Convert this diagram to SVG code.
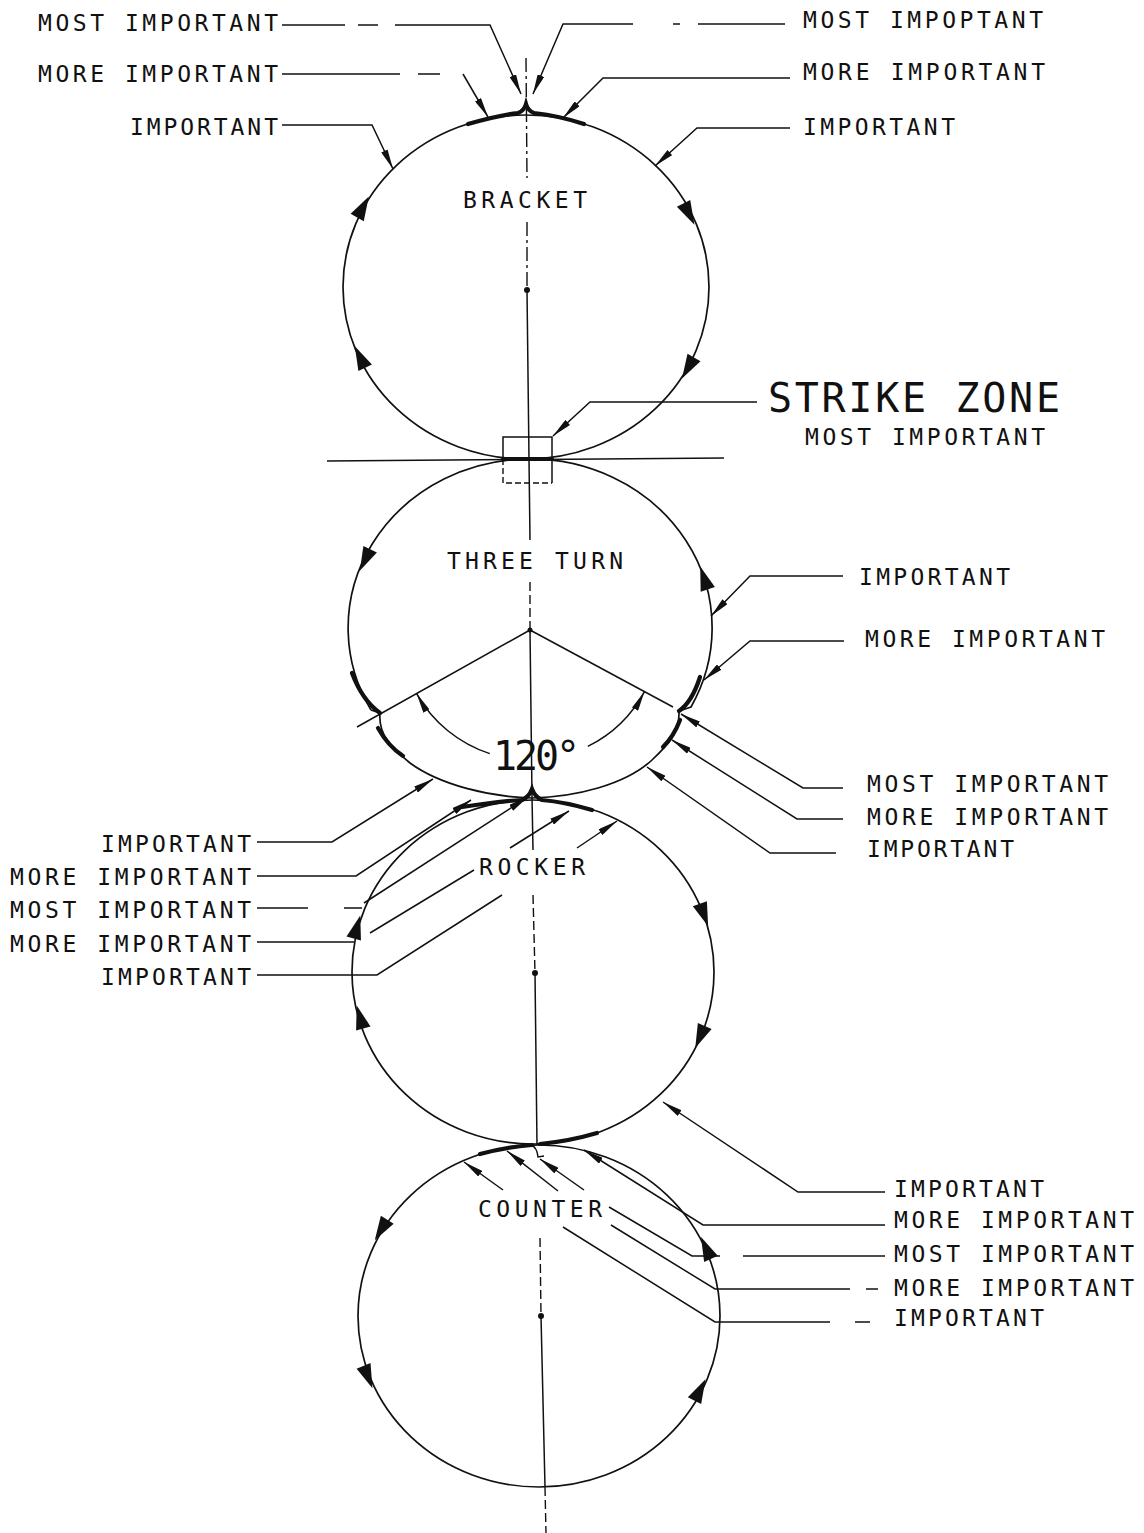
<svg xmlns="http://www.w3.org/2000/svg" xmlns:xlink="http://www.w3.org/1999/xlink" width="1144" height="1533" viewBox="0 0 1144 1533">
<style>
.bg{fill:#fff}
.c{fill:none;stroke:#111;stroke-width:1.7}
.th{fill:none;stroke:#111;stroke-width:4.2;stroke-linecap:round}
.ax{fill:none;stroke:#111;stroke-width:1.5}
.cl{fill:none;stroke:#111;stroke-width:1.4;stroke-dasharray:14 4 3 4}
.dl{fill:none;stroke:#111;stroke-width:1.4;stroke-dasharray:9 4}
.ld{fill:none;stroke:#111;stroke-width:1.5}
.la{fill:none;stroke:#111;stroke-width:1.5;marker-end:url(#ah)}
.t{font-family:'DejaVu Sans Mono','Liberation Mono',monospace;font-size:23px;fill:#111}
.tb{font-family:'DejaVu Sans Mono','Liberation Mono',monospace;font-size:40px;fill:#111}
.dir{fill:#111}
</style>
<defs>
<marker id="ah" viewBox="0 0 20 7" refX="20" refY="3.5" markerWidth="20" markerHeight="7" markerUnits="userSpaceOnUse" orient="auto"><path d="M0,0 L20,3.5 L0,7 Z" fill="#111"/></marker>
<path id="dir" d="M12,0 L-12,-7.5 L-12,7.5 Z"/>
</defs>
<rect class="bg" x="0" y="0" width="1144" height="1533"/>

<g id="axis">
<line class="cl" x1="526" y1="58" x2="527" y2="178"/>
<line class="cl" x1="527" y1="222" x2="527" y2="290"/>
<line class="ax" x1="527" y1="290" x2="529" y2="459"/>
<line class="ax" x1="529" y1="459" x2="530" y2="540"/>
<line class="dl" x1="530" y1="582" x2="530" y2="630"/>
<line class="ax" x1="530" y1="630" x2="532" y2="797"/>
<line class="ax" x1="532" y1="797" x2="533" y2="850"/>
<line class="dl" x1="533" y1="895" x2="535" y2="973"/>
<line class="ax" x1="535" y1="973" x2="537" y2="1145"/>
<line class="dl" x1="540" y1="1238" x2="541" y2="1316"/>
<line class="ax" x1="541" y1="1316" x2="545" y2="1487"/>
<line class="dl" x1="545" y1="1487" x2="546" y2="1533"/>
<circle cx="527" cy="290" r="3" fill="#111"/>
<circle cx="535" cy="973" r="3" fill="#111"/>
<circle cx="541" cy="1316" r="3" fill="#111"/>
<circle cx="530" cy="630" r="2.5" fill="#111"/>
</g>

<g id="bracket">
<ellipse class="c" cx="526" cy="287" rx="183" ry="172"/>
<path class="th" d="M468,124 Q500,115 518,113 Q524,111 526,104 Q528,111 534,113 Q560,116 584,124"/>
<use href="#dir" class="dir" transform="translate(363,207) rotate(-61)"/>
<use href="#dir" class="dir" transform="translate(360,357) rotate(-115.5)"/>
<use href="#dir" class="dir" transform="translate(689,214) rotate(63)"/>
<use href="#dir" class="dir" transform="translate(688,368) rotate(120)"/>
<text class="t" x="463" y="208" textLength="124" lengthAdjust="spacing">BRACKET</text>
</g>

<g id="strike-zone">
<line class="ax" x1="327" y1="461" x2="724" y2="458"/>
<path class="ax" d="M503,459 V437 H552 V483"/>
<path class="dl" d="M503,459 V483 H552" style="stroke-dasharray:6 3"/>
<line class="th" x1="503" y1="459" x2="552" y2="459"/>
<text class="tb" x="768" y="412" textLength="292" lengthAdjust="spacing">STRIKE ZONE</text>
<text class="t" x="805" y="445" textLength="240" lengthAdjust="spacing">MOST IMPORTANT</text>
</g>

<g id="three-turn">
<path class="c" d="M371,710 A182,169 0 1 1 691,707 L679,711"/>
<path class="c" d="M371,710 L380,713 C378,735 392,748 410,763 C440,785 490,797 532,798 C575,797 625,785 652,760 C668,745 680,732 679,711"/>
<path class="th" d="M352,673 Q362,700 380,713"/>
<path class="th" d="M378,728 Q388,746 403,756"/>
<path class="th" d="M700,677 Q692,702 679,711"/>
<path class="th" d="M680,720 Q674,736 663,747"/>
<line class="ax" x1="530" y1="630" x2="357" y2="727"/>
<line class="ax" x1="530" y1="630" x2="673" y2="707"/>
<path class="la" d="M489.8,753.6 A130,130 0 0 1 416.6,693.6"/>
<path class="la" d="M587.8,746.4 A130,130 0 0 0 644.5,691.6"/>
<use href="#dir" class="dir" transform="translate(365,560) rotate(115.5)"/>
<use href="#dir" class="dir" transform="translate(704,578) rotate(-108.4)"/>
<text class="t" x="447" y="569" textLength="176" lengthAdjust="spacing">THREE TURN</text>
<text class="tb" x="493" y="770" textLength="87" lengthAdjust="spacing">120°</text>
</g>

<g id="rocker">
<ellipse class="c" cx="533" cy="972" rx="181" ry="172"/>
<path class="th" d="M462,807 Q500,801 522,800 Q529,797 532,789 Q535,797 542,800 Q565,802 592,810"/>
<use href="#dir" class="dir" transform="translate(704,915) rotate(69.8)"/>
<use href="#dir" class="dir" transform="translate(700,1037) rotate(113.3)"/>
<use href="#dir" class="dir" transform="translate(360,1017) rotate(-106)"/>
<use href="#dir" class="dir" transform="translate(357,927) rotate(-74.2)"/>
<text class="t" x="479" y="875" textLength="106" lengthAdjust="spacing">ROCKER</text>
</g>

<g id="counter">
<ellipse class="c" cx="539" cy="1316" rx="181" ry="171"/>
<path class="th" d="M480,1154 Q505,1147 532,1145"/>
<path class="th" d="M540,1144 Q570,1141 597,1133"/>
<path class="ax" d="M531,1145 Q537,1147 538,1157 L544,1156"/>
<use href="#dir" class="dir" transform="translate(381,1230) rotate(121.4)"/>
<use href="#dir" class="dir" transform="translate(368,1377) rotate(68.2)"/>
<use href="#dir" class="dir" transform="translate(700,1390) rotate(-62.7)"/>
<use href="#dir" class="dir" transform="translate(706,1248) rotate(-114.5)"/>
<text class="t" x="478" y="1217" textLength="124" lengthAdjust="spacing">COUNTER</text>
</g>

<g id="labels">
<text class="t" x="38" y="31" textLength="240" lengthAdjust="spacing">MOST IMPORTANT</text>
<text class="t" x="38" y="82" textLength="240" lengthAdjust="spacing">MORE IMPORTANT</text>
<text class="t" x="130" y="135" textLength="148" lengthAdjust="spacing">IMPORTANT</text>
<text class="t" x="803" y="28" textLength="240" lengthAdjust="spacing">MOST IMPOPTANT</text>
<text class="t" x="803" y="80" textLength="242" lengthAdjust="spacing">MORE IMPORTANT</text>
<text class="t" x="803" y="135" textLength="152" lengthAdjust="spacing">IMPORTANT</text>
<text class="t" x="859" y="585" textLength="151" lengthAdjust="spacing">IMPORTANT</text>
<text class="t" x="865" y="647" textLength="240" lengthAdjust="spacing">MORE IMPORTANT</text>
<text class="t" x="867" y="792" textLength="241" lengthAdjust="spacing">MOST IMPORTANT</text>
<text class="t" x="867" y="825" textLength="241" lengthAdjust="spacing">MORE IMPORTANT</text>
<text class="t" x="867" y="857" textLength="147" lengthAdjust="spacing">IMPORTANT</text>
<text class="t" x="101" y="852" textLength="150" lengthAdjust="spacing">IMPORTANT</text>
<text class="t" x="10" y="885" textLength="241" lengthAdjust="spacing">MORE IMPORTANT</text>
<text class="t" x="10" y="918" textLength="241" lengthAdjust="spacing">MOST IMPORTANT</text>
<text class="t" x="10" y="952" textLength="241" lengthAdjust="spacing">MORE IMPORTANT</text>
<text class="t" x="101" y="985" textLength="150" lengthAdjust="spacing">IMPORTANT</text>
<text class="t" x="894" y="1197" textLength="150" lengthAdjust="spacing">IMPORTANT</text>
<text class="t" x="894" y="1228" textLength="240" lengthAdjust="spacing">MORE IMPORTANT</text>
<text class="t" x="894" y="1262" textLength="240" lengthAdjust="spacing">MOST IMPORTANT</text>
<text class="t" x="894" y="1296" textLength="240" lengthAdjust="spacing">MORE IMPORTANT</text>
<text class="t" x="894" y="1326" textLength="150" lengthAdjust="spacing">IMPORTANT</text>
</g>

<g id="connectors">
<polyline class="ld" points="282,25 345,25"/>
<polyline class="ld" points="358,25 378,25"/>
<polyline class="la" points="395,25 490,25 521,94"/>
<polyline class="ld" points="785,24 698,24"/>
<polyline class="ld" points="680,24 673,24"/>
<polyline class="la" points="633,24 563,24 533,94"/>
<polyline class="ld" points="282,74 400,74"/>
<polyline class="ld" points="418,74 440,74"/>
<polyline class="la" points="463,74 488,117"/>
<polyline class="la" points="790,78 603,78 563,118"/>
<polyline class="la" points="282,125 372,125 393,169"/>
<polyline class="la" points="790,128 697,128 655,166"/>
<polyline class="la" points="757,402 590,402 553,436"/>
<polyline class="la" points="843,576 750,576 711,616"/>
<polyline class="la" points="844,641 750,641 704,680"/>
<polyline class="la" points="843,788 803,788 681,714"/>
<polyline class="la" points="843,819 797,819 672,740"/>
<polyline class="la" points="836,853 770,853 647,767"/>
<polyline class="la" points="257,842 332,842 433,779"/>
<polyline class="la" points="257,876 356,876 471,800"/>
<polyline class="ld" points="257,908 308,908"/>
<polyline class="ld" points="344,908 362,908"/>
<polyline class="la" points="364,903 528,797"/>
<polyline class="ld" points="257,942 354,942"/>
<polyline class="ld" points="370,933 474,870"/>
<polyline class="la" points="510,848 569,811"/>
<polyline class="ld" points="257,975 377,975 502,895"/>
<polyline class="la" points="577,848 617,821"/>
<polyline class="la" points="885,1192 798,1192 663,1102"/>
<polyline class="la" points="885,1225 703,1225 584,1150"/>
<polyline class="ld" points="885,1256 743,1256"/>
<polyline class="ld" points="720,1256 692,1256 609,1207"/>
<polyline class="la" points="584,1190 540,1159"/>
<polyline class="ld" points="878,1289 866,1289"/>
<polyline class="ld" points="850,1289 715,1289 611,1225"/>
<polyline class="la" points="558,1191 507,1151"/>
<polyline class="ld" points="870,1322 855,1322"/>
<polyline class="ld" points="830,1322 715,1322 563,1227"/>
<polyline class="la" points="503,1190 464,1162"/>
</g>
</svg>
